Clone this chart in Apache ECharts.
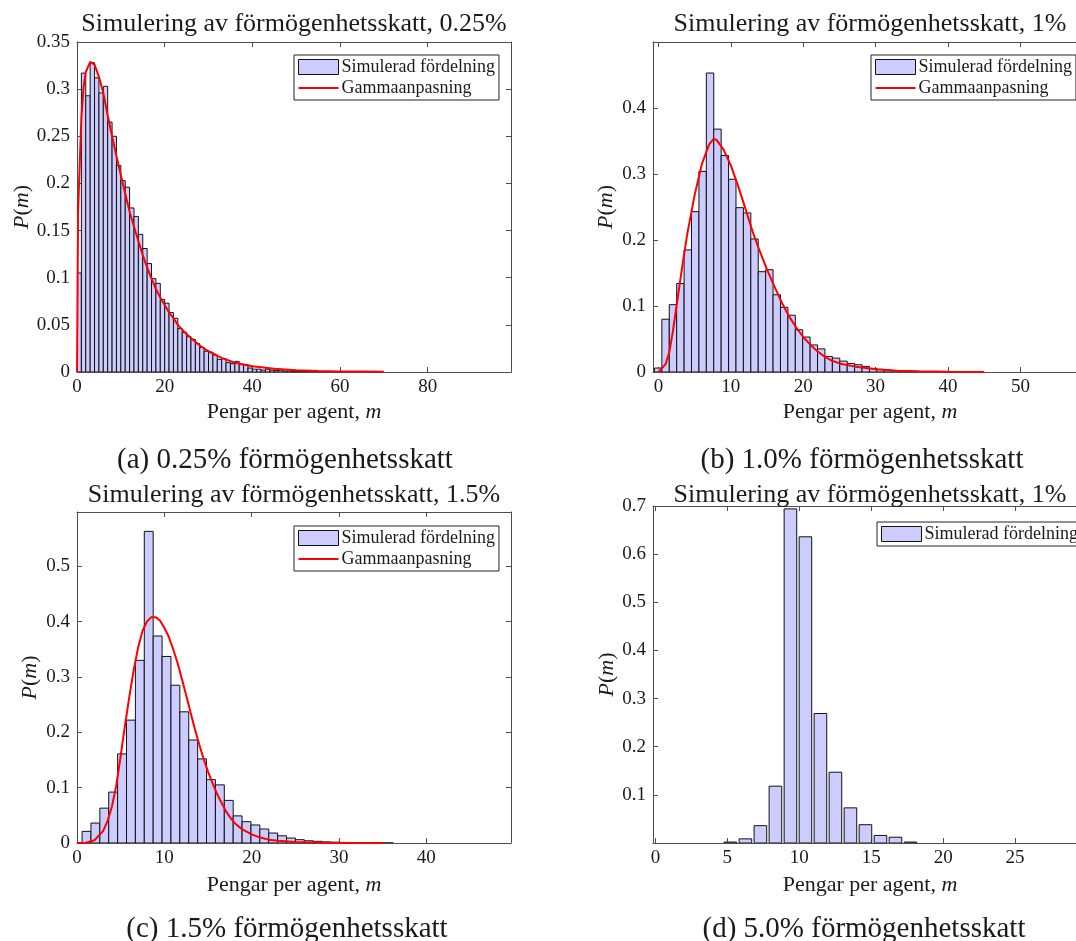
<!DOCTYPE html>
<html>
<head>
<meta charset="utf-8">
<title>Simulering av förmögenhetsskatt</title>
<script src="https://cdn.jsdelivr.net/npm/echarts@6.0.0/dist/echarts.min.js"></script>
<style>
  html, body { margin: 0; padding: 0; background: #fff; }
  #chart { width: 1076px; height: 941px; }
</style>
</head>
<body>
<div id="chart"></div>
<script>
// ---- data ----
// (a) 0.25 %
const binStartA = 0, binWidthA = 1;
const binsA = [0.105, 0.317, 0.293, 0.328, 0.312, 0.296, 0.303, 0.265, 0.250, 0.219,
  0.203, 0.196, 0.174, 0.165, 0.146, 0.131, 0.115, 0.099, 0.094, 0.077,
  0.073, 0.063, 0.057, 0.046, 0.042, 0.0375, 0.0346, 0.030, 0.026, 0.022,
  0.021, 0.018, 0.0134, 0.014, 0.0099, 0.0088, 0.0113, 0.0078, 0.0078, 0.0042,
  0.003, 0.003, 0.002, 0.003, 0.002, 0.0015, 0.002, 0.001, 0.0012, 0.0008,
  0.0006, 0.0007, 0.0004, 0.0003, 0.0004, 0.0002, 0.0002, 0.0001, 0.0001, 0.0001];
const curveAx = [0, 0.25, 0.5, 1, 1.5, 2, 3, 4, 5, 6, 7, 8, 9, 10, 11, 12, 13, 14, 15, 16, 17, 18, 19, 20,
  21, 22, 23, 24, 25, 26, 28, 30, 33, 36, 40, 45, 50, 55, 60, 65, 70];
const curveAy = [0, 0.17, 0.205, 0.27, 0.302, 0.318, 0.329, 0.326, 0.313, 0.296, 0.272, 0.25, 0.229, 0.209, 0.189, 0.17, 0.154, 0.139, 0.124, 0.111, 0.099, 0.088, 0.079, 0.071,
  0.063, 0.057, 0.05, 0.045, 0.04, 0.036, 0.028, 0.022, 0.015, 0.0098, 0.006, 0.0034, 0.0019, 0.0011, 0.0006, 0.0004, 0.0002];
const xTicksA = [0, 20, 40, 60, 80];
const yTicksA = [0, 0.05, 0.1, 0.15, 0.2, 0.25, 0.3, 0.35];

// (b) 1.0 %
const binStartB = -0.55, binWidthB = 1.024;
const binsB = [0.006, 0.080, 0.102, 0.134, 0.185, 0.243, 0.304, 0.453, 0.368, 0.328,
  0.292, 0.249, 0.241, 0.2015, 0.152, 0.155, 0.117, 0.098, 0.086, 0.064,
  0.053, 0.041, 0.035, 0.0236, 0.021, 0.0165, 0.013, 0.011, 0.0085, 0.0055,
  0.004, 0.003, 0.002, 0.0015, 0.001, 0.0008, 0.0005, 0.0004, 0.0003, 0.0002];
const curveBx = [0, 1, 1.5, 2, 2.5, 3, 3.5, 4, 5, 6, 7, 7.6, 8, 9, 10, 11, 12, 13, 14, 15, 16, 17, 18, 19,
  20, 21, 22, 23, 24, 25, 27, 30, 33, 36, 40, 45];
const curveBy = [0, 0.012, 0.03, 0.062, 0.1, 0.138, 0.175, 0.21, 0.268, 0.315, 0.345, 0.353, 0.352, 0.337, 0.313, 0.282, 0.248, 0.213, 0.183, 0.155, 0.13, 0.106, 0.085, 0.068,
  0.053, 0.041, 0.031, 0.023, 0.017, 0.013, 0.0085, 0.004, 0.002, 0.001, 0.0004, 0.0001];
const xTicksB = [0, 10, 20, 30, 40, 50];
const yTicksB = [0, 0.1, 0.2, 0.3, 0.4];

// (c) 1.5 %
const binStartC = 0.58, binWidthC = 1.018;
const binsC = [0.021, 0.036, 0.063, 0.092, 0.161, 0.222, 0.330, 0.563, 0.374, 0.337,
  0.285, 0.237, 0.186, 0.152, 0.1145, 0.105, 0.077, 0.049, 0.0385, 0.0326,
  0.0253, 0.018, 0.013, 0.009, 0.006, 0.004, 0.003, 0.002, 0.0015, 0.001,
  0.0006, 0.0004, 0.0003, 0.0002, 0.0001];
const curveCx = [0, 1, 2, 3, 3.5, 4, 4.5, 5, 5.5, 6, 6.5, 7, 7.5, 8, 8.5, 9, 9.5, 10, 10.5, 11, 11.5, 12,
  12.5, 13, 13.5, 14, 14.5, 15, 15.5, 16, 16.5, 17, 17.5, 18, 18.5, 19, 20, 21, 22, 23, 25, 28, 31, 35];
const curveCy = [0, 0.0005, 0.005, 0.022, 0.04, 0.066, 0.104, 0.157, 0.213, 0.265, 0.313, 0.353, 0.383, 0.4, 0.408, 0.408, 0.402, 0.389, 0.373, 0.351, 0.326, 0.297,
  0.267, 0.236, 0.206, 0.178, 0.152, 0.129, 0.109, 0.09, 0.074, 0.059, 0.047, 0.037, 0.03, 0.024, 0.0155, 0.0098, 0.006, 0.004, 0.0017, 0.0005, 0.0002, 0.0001];
const xTicksC = [0, 10, 20, 30, 40];
const yTicksC = [0, 0.1, 0.2, 0.3, 0.4, 0.5];

// (d) 5.0 %  (no gamma fit, bars drawn narrower than the bin)
const binStartD = 4.69, binWidthD = 1.043, barFracD = 0.84;
const binsD = [0.002, 0.0086, 0.036, 0.118, 0.694, 0.636, 0.269, 0.147, 0.073, 0.038, 0.0157, 0.012, 0.002];
const xTicksD = [0, 5, 10, 15, 20, 25, 30];
const yTicksD = [0.1, 0.2, 0.3, 0.4, 0.5, 0.6, 0.7];

const HIST_NAME = 'Simulerad fördelning';
const FIT_NAME = 'Gammaanpasning';

// ---- style ----
const FONT = 'Liberation Serif';
const AX = '#4d4d4d';
const TXT = '#1a1a1a';
const BAR_FILL = '#ccccff';
const BAR_EDGE = '#111';

const panels = [
  { grid: {left: 77, top: 42, width: 434, height: 330}, xMin: 0, xMax: 99, yMin: 0, yMax: 0.35,
    xTicks: xTicksA, yTicks: yTicksA, bins: binsA, start: binStartA, width: binWidthA, frac: 1,
    cx: curveAx, cy: curveAy, xNameGap: 29, yNameGap: 44,
    title: 'Simulering av förmögenhetsskatt, 0.25%', titleTop: 11,
    caption: '(a) 0.25% förmögenhetsskatt', capX: 285, capTop: 446, legend: {left: 294, top: 55} },
  { grid: {left: 653, top: 42, width: 434, height: 330}, xMin: -0.75, xMax: 59.2, yMin: 0, yMax: 0.5,
    xTicks: xTicksB, yTicks: yTicksB, bins: binsB, start: binStartB, width: binWidthB, frac: 1,
    cx: curveBx, cy: curveBy, xNameGap: 29, yNameGap: 36,
    title: 'Simulering av förmögenhetsskatt, 1%', titleTop: 11,
    caption: '(b) 1.0% förmögenhetsskatt', capX: 862, capTop: 446, legend: {left: 871, top: 55} },
  { grid: {left: 77, top: 512, width: 434, height: 331}, xMin: 0, xMax: 49.7, yMin: 0, yMax: 0.598,
    xTicks: xTicksC, yTicks: yTicksC, bins: binsC, start: binStartC, width: binWidthC, frac: 1,
    cx: curveCx, cy: curveCy, xNameGap: 31, yNameGap: 36,
    title: 'Simulering av förmögenhetsskatt, 1.5%', titleTop: 482,
    caption: '(c) 1.5% förmögenhetsskatt', capX: 287, capTop: 915, legend: {left: 294, top: 526} },
  { grid: {left: 653, top: 506, width: 434, height: 337}, xMin: -0.17, xMax: 30, yMin: 0, yMax: 0.7,
    xTicks: xTicksD, yTicks: yTicksD, bins: binsD, start: binStartD, width: binWidthD, frac: barFracD,
    cx: null, cy: null, xNameGap: 31, yNameGap: 35,
    title: 'Simulering av förmögenhetsskatt, 1%', titleTop: 482,
    caption: '(d) 5.0% förmögenhetsskatt', capX: 864, capTop: 915, legend: {left: 877, top: 522} }
];

function fmt(v) { return String(+(+v).toFixed(4)); }

function histRender(halfW) {
  return function (params, api) {
    const c = api.value(0), h = api.value(1);
    const p0 = api.coord([c - halfW, h]);
    const p1 = api.coord([c + halfW, 0]);
    return {
      type: 'rect',
      shape: {x: p0[0], y: p0[1], width: p1[0] - p0[0], height: p1[1] - p0[1]},
      style: {fill: BAR_FILL, stroke: BAR_EDGE, lineWidth: 1}
    };
  };
}

const grids = [], xAxes = [], yAxes = [], series = [], titles = [], legends = [];
const italic = {i: {fontStyle: 'italic', fontFamily: FONT, fontSize: 22, color: TXT}};

panels.forEach((p, gi) => {
  grids.push(Object.assign({outerBoundsMode: 'none', containLabel: false}, p.grid));
  const xBase = {
    type: 'value', gridIndex: gi, min: p.xMin, max: p.xMax,
    splitLine: {show: false},
    axisLine: {onZero: false, lineStyle: {color: AX, width: 1}},
    axisTick: {inside: true, length: 5, customValues: p.xTicks, lineStyle: {color: AX}}
  };
  xAxes.push(Object.assign({}, xBase, {
    position: 'bottom',
    axisLabel: {customValues: p.xTicks, formatter: fmt, fontFamily: FONT, fontSize: 19, color: TXT, margin: 6},
    name: 'Pengar per agent, {i|m}', nameLocation: 'middle', nameGap: p.xNameGap,
    nameTextStyle: {fontFamily: FONT, fontSize: 22, color: TXT, rich: italic}
  }));
  xAxes.push(Object.assign({}, xBase, {position: 'top', axisLabel: {show: false}}));

  const yBase = {
    type: 'value', gridIndex: gi, min: p.yMin, max: p.yMax,
    splitLine: {show: false},
    axisLine: {onZero: false, lineStyle: {color: AX, width: 1}},
    axisTick: {inside: true, length: 5, customValues: p.yTicks, lineStyle: {color: AX}}
  };
  yAxes.push(Object.assign({}, yBase, {
    position: 'left',
    axisLabel: {customValues: p.yTicks, formatter: fmt, fontFamily: FONT, fontSize: 19, color: TXT, margin: 7},
    name: '{i|P}({i|m})', nameLocation: 'middle', nameGap: p.yNameGap,
    nameTextStyle: {fontFamily: FONT, fontSize: 22, color: TXT, rich: italic}
  }));
  yAxes.push(Object.assign({}, yBase, {position: 'right', axisLabel: {show: false}}));

  series.push({
    name: HIST_NAME, type: 'custom', xAxisIndex: 2 * gi, yAxisIndex: 2 * gi, clip: true,
    itemStyle: {color: BAR_FILL},
    renderItem: histRender(p.width * p.frac / 2),
    encode: {x: 0, y: 1},
    data: p.bins.map((h, k) => [p.start + (k + 0.5) * p.width, h]),
    z: 2
  });
  if (p.cx) {
    series.push({
      name: FIT_NAME, type: 'line', xAxisIndex: 2 * gi, yAxisIndex: 2 * gi,
      showSymbol: false, symbol: 'none', smooth: false, clip: true,
      lineStyle: {color: '#ff0000', width: 2}, itemStyle: {color: '#ff0000'},
      data: p.cx.map((x, i) => [x, p.cy[i]]),
      z: 3
    });
  }

  const cxTitle = p.grid.left + p.grid.width / 2;
  titles.push({text: p.title, left: cxTitle, top: p.titleTop, textAlign: 'center', padding: 0,
    textStyle: {fontFamily: FONT, fontSize: 26, fontWeight: 'normal', color: TXT}});
  titles.push({text: p.caption, left: p.capX, top: p.capTop, textAlign: 'center', padding: 0,
    textStyle: {fontFamily: FONT, fontSize: 29, fontWeight: 'normal', color: TXT}});

  const items = [{name: HIST_NAME, icon: 'rect', itemStyle: {color: BAR_FILL, borderColor: '#111', borderWidth: 1}}];
  if (p.cx) items.push({name: FIT_NAME, icon: 'path://M0,0H40V2H0Z', itemStyle: {color: '#ff0000', borderWidth: 0}});
  legends.push({
    left: p.legend.left, top: p.legend.top, orient: 'vertical', selectedMode: false,
    itemWidth: 40, itemHeight: 15, itemGap: 3, symbolKeepAspect: true,
    padding: [3, 4, 3, 4], borderColor: '#222', borderWidth: 1, backgroundColor: '#fff',
    textStyle: {fontFamily: FONT, fontSize: 18, color: TXT, padding: [0, 0, 0, -2]},
    data: items
  });
});

const chart = echarts.init(document.getElementById('chart'), null, {renderer: 'canvas'});
chart.setOption({
  animation: false,
  backgroundColor: '#fff',
  title: titles,
  legend: legends,
  grid: grids,
  xAxis: xAxes,
  yAxis: yAxes,
  series: series
});
</script>
</body>
</html>
